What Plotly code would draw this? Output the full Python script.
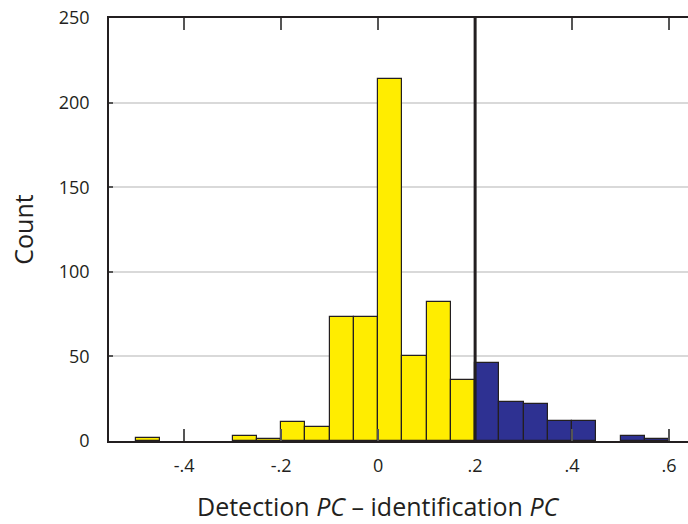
import plotly.graph_objects as go

# Histogram of (detection PC - identification PC), bin width 0.05
bin_left = [-0.50, -0.45, -0.40, -0.35, -0.30, -0.25, -0.20, -0.15, -0.10, -0.05,
            0.00, 0.05, 0.10, 0.15, 0.20, 0.25, 0.30, 0.35, 0.40, 0.45, 0.50, 0.55]
counts = [2, 0, 0, 0, 3, 1, 11, 8, 73, 73,
          214, 50, 82, 36, 46, 23, 22, 12, 12, 0, 3, 1]
bin_width = 0.05
threshold = 0.2

x_tick_vals = [-0.4, -0.2, 0, 0.2, 0.4, 0.6]
x_tick_text = ["-.4", "-.2", "0", ".2", ".4", ".6"]
y_tick_vals = [0, 50, 100, 150, 200, 250]

YELLOW = "#FFED00"
BLUE = "#2E3192"
INK = "#231F20"

centers = [b + bin_width / 2 for b in bin_left]
colors = [BLUE if b >= threshold - 1e-9 else YELLOW for b in bin_left]
# empty bins get no outline
outline_w = [1.2 if c > 0 else 0 for c in counts]

fig = go.Figure()
fig.add_trace(go.Bar(
    x=centers, y=counts, width=bin_width,
    marker=dict(color=colors, line=dict(color=INK, width=outline_w)),
    showlegend=False, hoverinfo="x+y",
))

fig.add_shape(type="line", x0=threshold, x1=threshold, y0=0, y1=250,
              xref="x", yref="y", line=dict(color=INK, width=3), layer="above")

font_family = "Open Sans, Noto Sans, DejaVu Sans, sans-serif"

# x-axis title placed as an annotation, centred under the data
fig.add_annotation(
    text="Detection <i>PC</i> – identification <i>PC</i>",
    xref="paper", yref="paper", x=0.466, y=-0.154,
    xanchor="center", yanchor="middle", showarrow=False,
    font=dict(size=25, family=font_family, color=INK),
)

fig.update_layout(
    width=688, height=524,
    margin=dict(l=109, r=0, t=18, b=83),
    plot_bgcolor="white", paper_bgcolor="white",
    bargap=0,
    font=dict(family=font_family, color=INK, size=17),
    xaxis=dict(
        range=[-0.555, 0.639],
        tickvals=x_tick_vals, ticktext=x_tick_text,
        ticks="inside", ticklen=12, tickcolor="#555555", tickwidth=1.5,
        showline=True, linecolor=INK, linewidth=1.5, mirror="ticks",
        showgrid=False, zeroline=False,
        tickfont=dict(size=18),
        ticklabelstandoff=8,
    ),
    yaxis=dict(
        range=[0, 250],
        tickvals=y_tick_vals,
        ticks="inside", ticklen=4, tickcolor="#555555", tickwidth=1.5,
        showline=True, linecolor=INK, linewidth=1.5,
        showgrid=True, gridcolor="#D9D9D9", gridwidth=2,
        zeroline=False,
        tickfont=dict(size=18),
        ticklabelstandoff=14,
        title=dict(text="Count", font=dict(size=25), standoff=18),
    ),
)

fig.write_html("out.html")
